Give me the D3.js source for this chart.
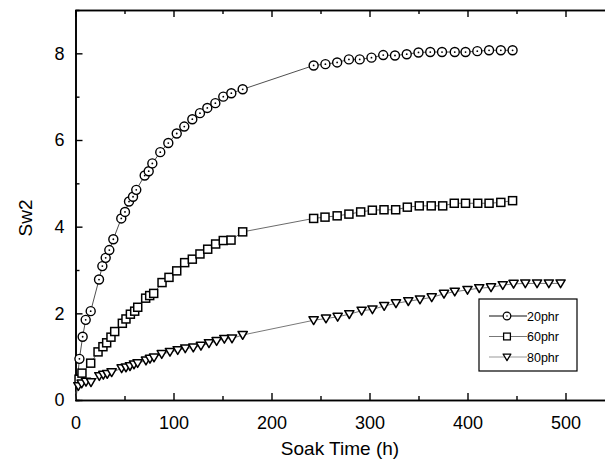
<!DOCTYPE html>
<html>
<head>
<meta charset="utf-8">
<script src="https://cdn.jsdelivr.net/npm/d3@7"></script>
<style>
  body { margin: 0; background: #fff; }
  svg { font-family: "Liberation Sans", Arial, sans-serif; }
</style>
</head>
<body>
<svg id="chart" width="605" height="460"></svg>
<script>
// soak time (h) and Sw2 values
const t20 = [0, 4, 7.3, 10.4, 15.5, 24, 27.4, 30.8, 34.5, 38.6, 46.7, 50.5, 54.6, 58.7, 62, 70.6, 74.7, 78.4, 86.5, 94.7, 103.3, 111, 119.2, 127, 134.5, 142.7, 150.8, 159, 170.6,
  243, 255, 267, 279, 290, 302, 314, 326, 338, 350, 362, 374, 387, 398, 410, 422, 434, 446];
const sw20 = [0, 0.95, 1.46, 1.85, 2.05, 2.78, 3.09, 3.28, 3.46, 3.71, 4.19, 4.34, 4.58, 4.69, 4.85, 5.18, 5.28, 5.46, 5.72, 5.93, 6.15, 6.31, 6.48, 6.62, 6.74, 6.85, 7.0, 7.08, 7.17,
  7.72, 7.75, 7.79, 7.86, 7.86, 7.90, 7.96, 7.95, 7.98, 8.02, 8.03, 8.03, 8.03, 8.03, 8.05, 8.07, 8.07, 8.07];

const t60 = [0, 3.6, 6.6, 15.5, 23, 28, 31.8, 36.2, 40, 47.8, 51.5, 56, 60.4, 63.5, 71.6, 75.7, 79.8, 88.3, 95.4, 103.3, 111.4, 119.2, 127, 134.9, 143, 150.8, 158.7, 170.6,
  243, 254.6, 267, 279, 291, 302.9, 314.8, 326.7, 338.6, 350.8, 363, 374.7, 386.5, 398, 410.4, 422, 434, 446];
const sw60 = [0, 0.48, 0.62, 0.85, 1.11, 1.23, 1.32, 1.45, 1.58, 1.77, 1.87, 1.98, 2.05, 2.14, 2.35, 2.41, 2.46, 2.71, 2.83, 2.98, 3.17, 3.25, 3.37, 3.48, 3.6, 3.68, 3.69, 3.88,
  4.19, 4.22, 4.25, 4.29, 4.34, 4.38, 4.39, 4.39, 4.45, 4.48, 4.48, 4.48, 4.54, 4.54, 4.54, 4.54, 4.56, 4.60];

const t80 = [0, 2.9, 6.3, 10.7, 15.8, 24.3, 28.4, 32.4, 36.9, 47.1, 51.5, 55.6, 59.7, 63.4, 71.9, 76, 80.1, 88, 96.4, 104.3, 112, 120.2, 128, 136.2, 144, 151.9, 159.7, 170.6,
  243, 255.6, 267.5, 279.4, 292, 303, 315, 327, 339.6, 351.5, 363.5, 376, 387, 400, 412, 424, 436, 447, 459, 471, 483, 495];
const sw80 = [0.15, 0.32, 0.38, 0.42, 0.41, 0.55, 0.58, 0.6, 0.64, 0.73, 0.75, 0.78, 0.82, 0.85, 0.91, 0.95, 0.98, 1.06, 1.11, 1.15, 1.19, 1.21, 1.25, 1.31, 1.36, 1.41, 1.42, 1.5,
  1.84, 1.88, 1.92, 1.98, 2.06, 2.09, 2.17, 2.23, 2.28, 2.32, 2.37, 2.45, 2.5, 2.54, 2.58, 2.6, 2.65, 2.68, 2.69, 2.69, 2.69, 2.69];

const xTicks = [0, 100, 200, 300, 400, 500];
const xMinor = [50, 150, 250, 350, 450, 550];
const yTicks = [0, 2, 4, 6, 8];
const yMinor = [1, 3, 5, 7];

const seriesNames = ["20phr", "60phr", "80phr"];

const svg = d3.select("#chart");

const x = d3.scaleLinear().domain([0, 550]).range([75.5, 614.5]);
const y = d3.scaleLinear().domain([0, 9]).range([400, 10]);

// axes, ticks pointing inward
const gx = svg.append("g").attr("transform", "translate(0,400)");
gx.call(d3.axisBottom(x).tickValues(xTicks).tickSizeInner(-7).tickSizeOuter(0).tickPadding(16));
gx.append("g").call(d3.axisBottom(x).tickValues(xMinor).tickSize(-4).tickFormat(""));

const gxTop = svg.append("g").attr("transform", "translate(0,10)");
gxTop.call(d3.axisTop(x).tickValues(xTicks).tickSizeInner(-7).tickSizeOuter(0).tickFormat(""));
gxTop.append("g").call(d3.axisTop(x).tickValues(xMinor).tickSize(-4).tickFormat(""));

const gy = svg.append("g").attr("transform", "translate(75.5,0)");
gy.call(d3.axisLeft(y).tickValues(yTicks).tickSizeInner(-7).tickSizeOuter(0).tickPadding(11));
gy.append("g").call(d3.axisLeft(y).tickValues(yMinor).tickSize(-4).tickFormat(""));

svg.selectAll(".domain").attr("stroke", "#000").attr("stroke-width", 1.6);
svg.selectAll(".tick line").attr("stroke", "#000").attr("stroke-width", 1.4);
svg.selectAll(".tick text").attr("font-size", 18).attr("fill", "#000")
  .attr("font-family", "'Liberation Sans', Arial, sans-serif");

// axis titles
svg.append("text").attr("x", 340).attr("y", 455).attr("text-anchor", "middle")
  .attr("font-size", 19).text("Soak Time (h)");
svg.append("text").attr("transform", "translate(32,218) rotate(-90)").attr("text-anchor", "middle")
  .attr("font-size", 19).text("Sw2");

const plot = svg.append("g");

const series = [
  { name: seriesNames[0], t: t20, v: sw20, shape: "circle", line: "#222" },
  { name: seriesNames[1], t: t60, v: sw60, shape: "square", line: "#444" },
  { name: seriesNames[2], t: t80, v: sw80, shape: "triangle", line: "#555" }
];

function drawMarker(g, shape) {
  if (shape === "circle") {
    g.append("circle").attr("r", 4.5).attr("fill", "#fff").attr("stroke", "#000").attr("stroke-width", 1.4);
    g.append("circle").attr("r", 0.9).attr("fill", "#000");
  } else if (shape === "square") {
    g.append("rect").attr("x", -4).attr("y", -4).attr("width", 8).attr("height", 8)
      .attr("fill", "#fff").attr("stroke", "#000").attr("stroke-width", 1.5);
  } else {
    g.append("path").attr("d", "M-4.6,-3.5L4.6,-3.5L0,4.3Z")
      .attr("fill", "#fff").attr("stroke", "#000").attr("stroke-width", 1.5).attr("stroke-linejoin", "round");
  }
}

series.forEach(s => {
  const pts = s.t.map((d, i) => [d, s.v[i]]);
  plot.append("path")
    .datum(pts)
    .attr("fill", "none")
    .attr("stroke", s.line)
    .attr("stroke-width", 0.8)
    .attr("d", d3.line().x(d => x(d[0])).y(d => y(d[1])));
});

series.forEach(s => {
  const pts = s.t.map((d, i) => [d, s.v[i]]).filter(d => d[0] > 0);
  plot.selectAll(null)
    .data(pts)
    .enter()
    .append("g")
    .attr("transform", d => `translate(${x(d[0])},${y(d[1])})`)
    .each(function () { drawMarker(d3.select(this), s.shape); });
});

// legend
const legend = svg.append("g").attr("transform", "translate(479,299)");
legend.append("rect").attr("width", 98).attr("height", 72)
  .attr("fill", "#fff").attr("stroke", "#000").attr("stroke-width", 1.2);
const legendColors = ["#111", "#777", "#999"];
series.forEach((s, i) => {
  const row = legend.append("g").attr("transform", `translate(0,${17 + i * 20.5})`);
  row.append("line").attr("x1", 10).attr("x2", 48).attr("stroke", legendColors[i]).attr("stroke-width", 1.2);
  const m = row.append("g");
  drawMarker(m, s.shape);
  m.attr("transform", "translate(28,0) scale(0.85)");
  row.append("text").attr("x", 48).attr("y", 4.5).attr("font-size", 12.5).text(s.name);
});
</script>
</body>
</html>
